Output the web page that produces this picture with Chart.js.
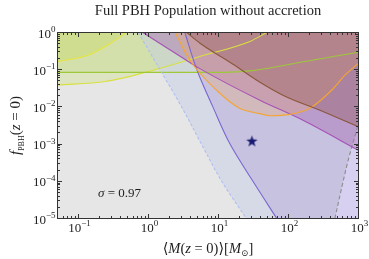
<!DOCTYPE html>
<html><head><meta charset="utf-8">
<script src="https://cdn.jsdelivr.net/npm/chart.js@4.4.1/dist/chart.umd.min.js"></script>
<style>html,body{margin:0;background:#fff}canvas{display:block}</style>
</head><body>
<canvas id="c" width="369" height="259"></canvas>
<script>
/* ===== data ===== */
const TITLE='Full PBH Population without accretion';
const X_MIN=0.05,X_MAX=1000,Y_MIN=1e-5,Y_MAX=1;
const X_TICKS=[0.1,1,10,100,1000], Y_TICKS=[1e-5,1e-4,1e-3,1e-2,1e-1,1];

// constraint boundaries: mass M [Msun] and f_PBH
const yelA_M=[0.05,0.14,0.28,0.48],         yelA_f=[0.164,0.25,0.5,1];
const yelB_M=[0.05,0.24,1.24,5.4,28,49],   yelB_f=[0.039,0.048,0.1,0.226,0.573,1];
const grn_M =[0.05,12,28,172,1000],        grn_f =[0.085,0.085,0.093,0.166,0.295];
const dsh_M =[0.71,1.46,2.97,5.7,11.1,25], dsh_f =[1,0.1,0.01,1e-3,1e-4,1e-5];
const blu_M =[3.3,4.9,8.3,14.6,31,68],     blu_f =[1,0.1,0.01,1e-3,1e-4,1e-5];
const gry_M =[460,565,713,1000],           gry_f =[1e-5,5.8e-5,3.7e-4,3.6e-3];
const mag_M =[0.83,3.7,5.4,39,161,1000],   mag_f =[1,0.166,0.107,0.0151,0.00437,0.00068];
const org_M =[2.4,3.9,9.4,20,39,54,105,202,413,640,1000];
const org_f =[1,0.18,0.028,0.0092,0.0066,0.0058,0.0063,0.0092,0.028,0.071,0.148];
const brn_M =[3.51,5.43,16.1,39.1,88.9,281,1000];
const brn_f =[1,0.515,0.1406,0.0461,0.0194,0.00815,0.0029];
const star_M=[30], star_f=[1.2e-3];
const SIGMA_TXT=' = 0.97', SIGMA_M=0.19, SIGMA_F=3.7e-5;

/* ===== helpers ===== */
const SERIF='"Liberation Serif","DejaVu Serif",serif';
const pts=(M,f)=>M.map((m,i)=>({x:m,y:f[i]}));
const up=(M,f,line,bg,o={})=>Object.assign({data:pts(M,f),borderColor:line,borderWidth:1.1,backgroundColor:bg,
  fill:{value:Y_MAX},pointRadius:0,cubicInterpolationMode:'monotone'},o);
const right=(M,f,line,bg,o={})=>up(M,f,line,bg,Object.assign({indexAxis:'y',fill:{value:X_MAX}},o));

const starImg=document.createElement('canvas'); starImg.width=starImg.height=13;
(()=>{const g=starImg.getContext('2d');g.fillStyle='#1b1a72';g.beginPath();
  for(let i=0;i<10;i++){const r=i%2?2.4:6,a=-Math.PI/2+i*Math.PI/5;g.lineTo(6.5+r*Math.cos(a),6.8+r*Math.sin(a));}
  g.closePath();g.fill();})();

function runs(ctx,parts,x,y,align){
  let w=0; parts.forEach(p=>{ctx.font=p[1]; w+=ctx.measureText(p[0]).width;});
  let cx=align==='center'?x-w/2:align==='right'?x-w:x;
  parts.forEach(p=>{ctx.font=p[1]; ctx.fillText(p[0],cx,y+(p[2]||0)); cx+=ctx.measureText(p[0]).width;});
}
const F=(s,it)=>(it?'italic ':'')+s+'px '+SERIF;
const expTxt=v=>{const e=Math.round(Math.log10(v));return (e<0?'\u2212':'')+Math.abs(e);};

/* ===== plugin: background, frame, ticks, texts ===== */
const deco={id:'deco',
  beforeDraw(c){const {ctx,chartArea:a}=c;ctx.save();ctx.fillStyle='#e6e6e6';
    ctx.fillRect(a.left,a.top,a.right-a.left,a.bottom-a.top);ctx.restore();},
  afterDraw(c){
    const {ctx,chartArea:a,scales:{x,y}}=c;
    ctx.save();
    ctx.strokeStyle='#333';ctx.lineWidth=1;
    ctx.strokeRect(a.left,a.top,a.right-a.left,a.bottom-a.top);
    ctx.beginPath();
    for(let e=-2;e<=3;e++)for(let m=1;m<10;m++){
      const v=m*10**e; if(v<X_MIN||v>X_MAX) continue;
      const p=Math.round(x.getPixelForValue(v)-.5)+.5,L=m===1?4.5:2.5;
      ctx.moveTo(p,a.bottom);ctx.lineTo(p,a.bottom-L);ctx.moveTo(p,a.top);ctx.lineTo(p,a.top+L);
    }
    for(let e=-5;e<=0;e++)for(let m=1;m<10;m++){
      const v=m*10**e; if(v<Y_MIN||v>Y_MAX) continue;
      const p=Math.round(y.getPixelForValue(v)-.5)+.5,L=m===1?4.5:2.5;
      ctx.moveTo(a.left,p);ctx.lineTo(a.left+L,p);ctx.moveTo(a.right,p);ctx.lineTo(a.right-L,p);
    }
    ctx.stroke();

    ctx.fillStyle='#1e1e1e';ctx.textBaseline='alphabetic';
    X_TICKS.forEach(v=>runs(ctx,[['10',F(13)],[expTxt(v),F(9),-5.5]],x.getPixelForValue(v)+1,231.5,'center'));
    Y_TICKS.forEach(v=>runs(ctx,[['10',F(13)],[expTxt(v),F(9),-5.5]],55.5,y.getPixelForValue(v)+5,'right'));

    runs(ctx,[[TITLE,F(14.5)]],(a.left+a.right)/2,14.5,'center');
    runs(ctx,[['\u27E8',F(14.5)],['M',F(14.5,1)],['(',F(14.5)],['z',F(14.5,1)],[' = 0)',F(14.5)],['\u27E9[',F(14.5)],
      ['M',F(14.5,1)],['\u2299',F(9),3],[']',F(14.5)]],(a.left+a.right)/2,253,'center');
    runs(ctx,[['\u03C3',F(13,1)],[SIGMA_TXT,F(13)]],x.getPixelForValue(SIGMA_M),y.getPixelForValue(SIGMA_F),'left');

    ctx.translate(20,(a.top+a.bottom)/2);ctx.rotate(-Math.PI/2);
    runs(ctx,[['f',F(15,1)],['PBH',F(8),3.5],['(',F(15)],['z',F(15,1)],[' = 0)',F(15)]],0,0,'center');
    ctx.restore();
  }};

/* ===== chart ===== */
new Chart(document.getElementById('c'),{
  type:'line',
  data:{datasets:[
    {data:pts(star_M,star_f),showLine:false,pointStyle:starImg,pointRadius:6,fill:false},
    up(brn_M,brn_f,'#8a573c','rgba(150,90,90,0.38)'),
    up(org_M,org_f,'#f5a532','rgba(240,170,110,0.3)'),
    up(mag_M,mag_f,'#a652b6','rgba(165,100,175,0.4)'),
    right(gry_M,gry_f,'#8c8c8c','rgba(222,214,248,0.7)',{borderDash:[4,2.5]}),
    right(blu_M,blu_f,'#7a68cf','rgba(170,150,210,0.35)'),
    right(dsh_M,dsh_f,'#aebff2','rgba(195,203,232,0.45)',{borderDash:[3,2]}),
    up(grn_M,grn_f,'#9cc83a','rgba(170,205,80,0.18)'),
    up(yelB_M,yelB_f,'#d9e040','rgba(200,225,110,0.3)'),
    up(yelA_M,yelA_f,'#e6e63c','rgba(205,215,70,0.3)')
  ]},
  options:{
    responsive:false,animation:false,devicePixelRatio:1,
    layout:{padding:{left:57.5,right:10.5,top:32.5,bottom:40.5}},
    plugins:{legend:{display:false},tooltip:{enabled:false},filler:{drawTime:'beforeDatasetsDraw'}},
    scales:{
      x:{type:'logarithmic',min:X_MIN,max:X_MAX,display:false},
      y:{type:'logarithmic',min:Y_MIN,max:Y_MAX,display:false}
    }
  },
  plugins:[deco]
});
</script>
</body></html>
